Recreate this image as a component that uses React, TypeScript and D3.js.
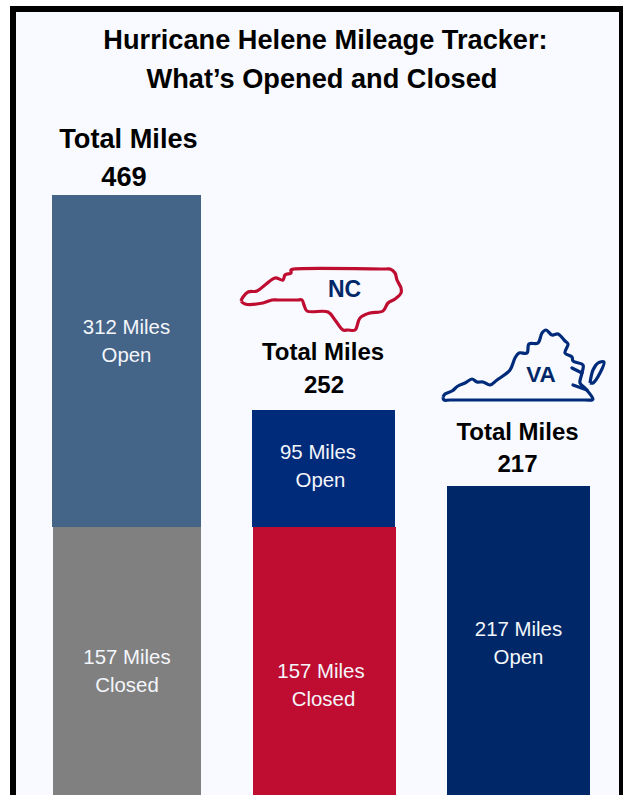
import * as d3 from "d3";

const categories = ["Total", "NC", "VA"];
const totalMiles = [469, 252, 217];
const openMiles = [312, 95, 217];
const closedMiles = [157, 157, 0];

const openColors = ["#446488", "#002a7a", "#002868"];
const closedColors = ["#808080", "#bf0d31", "#808080"];

const titleLines = ["Hurricane Helene Mileage Tracker:", "What’s Opened and Closed"];

const FONT = "'Liberation Sans', Arial, sans-serif";
const width = 623;
const height = 795;
const baseline = 795;

// the bars in the original are not drawn to one linear scale, so this one is piecewise
const heightScale = d3.scaleLinear().domain([0, 95, 157, 217, 312]).range([0, 117, 268, 309, 332]);
const xScale = d3.scalePoint<string>().domain(categories).range([126.5, 518.5]);

// hand placement per bar, the labels in the original are not lined up on anything
const barDx = [0, 1, 0];
const headDx = [2, 0.5, -1];
const numDx = [-2.5, 1.5, -1];
const headY = [148, 359.5, 439.5];
const numY = [185.5, 393, 472];
const openDx = [0, -4.5, 0];
const closedDx = [0.5, -1.5, 0];
const secondLineDx = [0, 2.5, 0];
const openY = [334, 459, 636];
const closedY = [664, 678, 0];

// outlines, in the state's own pixel box
const ncOutline: [number, number][] = [
  [241, 301], [243, 297], [248, 292], [257, 291], [265, 285], [275, 278], [283, 280], [285, 275],
  [291, 273], [291, 270], [294, 269], [386, 269], [390, 269], [395, 273], [397, 280], [401, 288], [401, 293], [395, 299],
  [388, 303], [383, 311], [370, 313], [360, 318], [355, 330], [348, 330], [343, 330], [335, 320],
  [328, 312], [307, 311], [304, 305], [302, 300], [297, 300], [278, 300], [272, 300], [263, 303], [245, 304], [241, 301],
];
const vaOutline: [number, number][] = [
  [443, 397], [445, 394], [452, 391], [458, 386], [465, 383], [472, 379], [477, 382], [483, 382],
  [490, 385], [497, 380], [510, 370], [515, 358], [519, 353], [527, 353], [529, 344], [538, 343],
  [542, 333], [546, 330], [552, 335], [558, 334], [565, 341], [568, 344], [565, 353], [572, 357],
  [573, 361], [583, 365], [582, 373], [580, 383], [585, 388], [593, 399], [592, 400], [585, 400],
  [450, 400], [444, 400], [443, 397],
];
const vaInlets: [number, number][][] = [
  [[572, 368], [582, 373]],
  [[573, 385], [587, 390]],
];
const vaShore: [number, number][] = [
  [590, 383], [593, 370], [598, 363], [604, 362], [600, 373], [593, 383], [590, 383],
];

const outline = d3.line().curve(d3.curveCatmullRom.alpha(0.5));

export default function App() {
  const bars = categories.map((c, i) => {
    const cx = xScale(c)!;
    const w = i === 0 ? 149 : 143;
    const closedH = heightScale(closedMiles[i]);
    const openH = heightScale(openMiles[i]);
    const closedTop = baseline - closedH;
    const openTop = closedTop - openH;
    return { c, i, cx, w, closedH, openH, closedTop, openTop };
  });

  return (
    <svg
      width={width}
      height={height}
      style={{ position: "absolute", left: 0, top: 0, display: "block", background: "#fff" }}
      fontFamily={FONT}
    >
      <rect x={10} y={6} width={620} height={800} fill="#000" />
      <rect x={16} y={12} width={603} height={800} fill="#f8faff" />

      {titleLines.map((t, i) => (
        <text key={t} x={i === 0 ? 325.5 : 322} y={48.5 + i * 39} textAnchor="middle" fontSize={27.2} fontWeight="bold" fill="#000">
          {t}
        </text>
      ))}

      {bars.map(({ c, i, cx, w, closedH, openH, closedTop, openTop }) => (
        <g key={c}>
          <rect x={cx - w / 2 + barDx[i]} y={openTop} width={w} height={openH} fill={openColors[i]} />
          {closedMiles[i] > 0 && (
            <rect x={cx - w / 2 + 1 + barDx[i]} y={closedTop} width={w - (i === 0 ? 1 : 0)} height={closedH} fill={closedColors[i]} />
          )}
          <text x={cx + headDx[i]} y={headY[i]} textAnchor="middle" fontSize={i === 0 ? 27.2 : 24} fontWeight="bold" fill="#000">
            Total Miles
          </text>
          <text x={cx + numDx[i]} y={numY[i]} textAnchor="middle" fontSize={i === 0 ? 27.2 : 24} fontWeight="bold" fill="#000">
            {totalMiles[i]}
          </text>
          {[`${openMiles[i]} Miles`, "Open"].map((s, k) => (
            <text key={s} x={cx + openDx[i] + k * secondLineDx[i]} y={openY[i] + k * 28} textAnchor="middle" fontSize={20.4} fill="#f4f6fb">
              {s}
            </text>
          ))}
          {closedMiles[i] > 0 &&
            [`${closedMiles[i]} Miles`, "Closed"].map((s, k) => (
              <text key={s} x={cx + closedDx[i] + k * secondLineDx[i]} y={closedY[i] + k * 28} textAnchor="middle" fontSize={20.4} fill="#f4f6fb">
                {s}
              </text>
            ))}
        </g>
      ))}

      <path d={outline(ncOutline)!} fill="none" stroke="#bf0d31" strokeWidth={3.2} strokeLinejoin="round" />
      <text x={344.5} y={296.5} textAnchor="middle" fontSize={23} fontWeight="bold" fill="#002868">NC</text>

      <path d={outline(vaOutline)!} fill="none" stroke="#002a7a" strokeWidth={3.2} strokeLinejoin="round" />
      {vaInlets.map((seg, i) => (
        <path key={i} d={d3.line()(seg)!} fill="none" stroke="#002a7a" strokeWidth={3.2} strokeLinecap="round" />
      ))}
      <path d={outline(vaShore)!} fill="none" stroke="#002a7a" strokeWidth={3.2} strokeLinejoin="round" />
      <text x={541} y={382} textAnchor="middle" fontSize={22.5} fontWeight="bold" fill="#002868">VA</text>
    </svg>
  );
}
